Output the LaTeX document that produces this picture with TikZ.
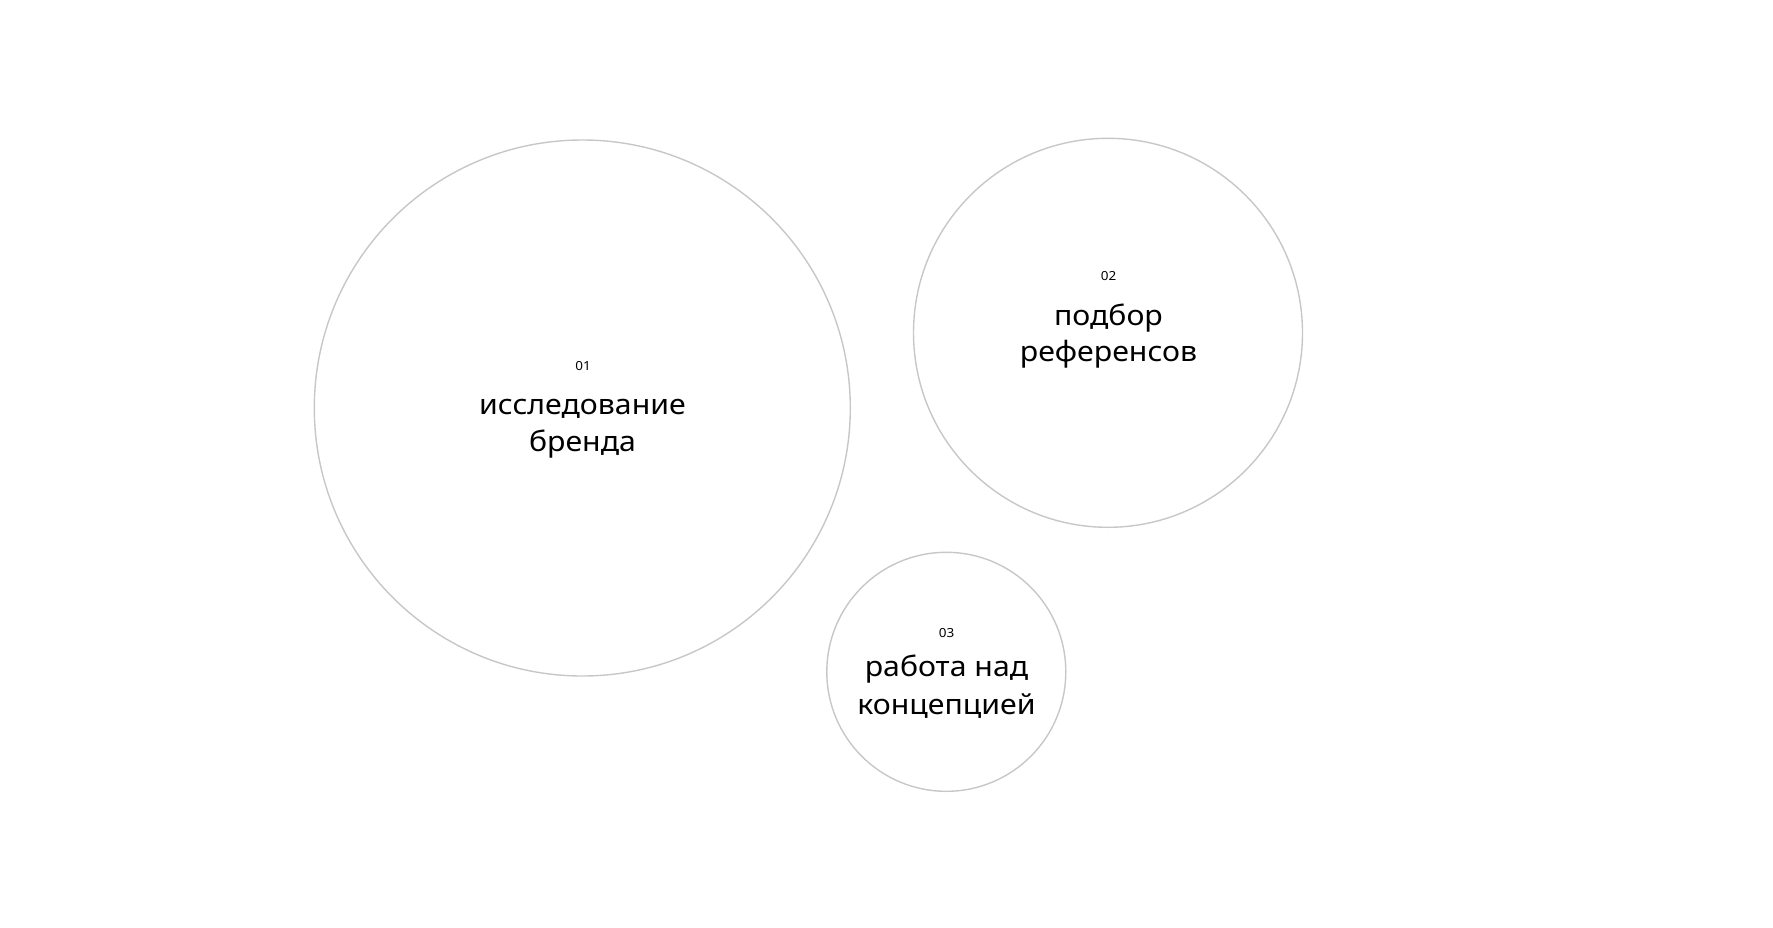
\documentclass[tikz,border=0pt]{standalone}
\usepackage{fontspec}
\setmainfont{Noto Sans}
\newfontfamily\mainf[FakeStretch=1.08]{Noto Sans}
\begin{document}
\begin{tikzpicture}[x=1pt,y=-1pt,
  ring/.style={draw=black!22, line width=1.4pt, circle, inner sep=0pt},
  numlbl/.style={font=\mainf\fontsize{12.5}{14}\selectfont, inner sep=0pt, anchor=center},
  mainlbl/.style={font=\mainf\fontsize{28}{37}\selectfont, inner sep=0pt, anchor=base, align=center}]
\useasboundingbox (0,0) rectangle (1773,927);
\node[ring, minimum size=536pt] (c1) at (582.3,408) {};
\node[ring, minimum size=389pt] (c2) at (1108,332.8) {};
\node[ring, minimum size=239pt] (c3) at (946.3,671.8) {};
\node[numlbl] (n1) at (583,366) {01};
\node[mainlbl] (t1a) at (582.5,414) {исследование};
\node[mainlbl] (t1b) at (582.5,451) {бренда};
\node[numlbl] (n2) at (1108.5,276) {02};
\node[mainlbl] (t2a) at (1108.5,325) {подбор};
\node[mainlbl] (t2b) at (1108.5,361.7) {референсов};
\node[numlbl] (n3) at (946.5,632.7) {03};
\node[mainlbl] (t3a) at (946.5,676.7) {работа над};
\node[mainlbl] (t3b) at (946.5,714.5) {концепцией};
\end{tikzpicture}
\end{document}
